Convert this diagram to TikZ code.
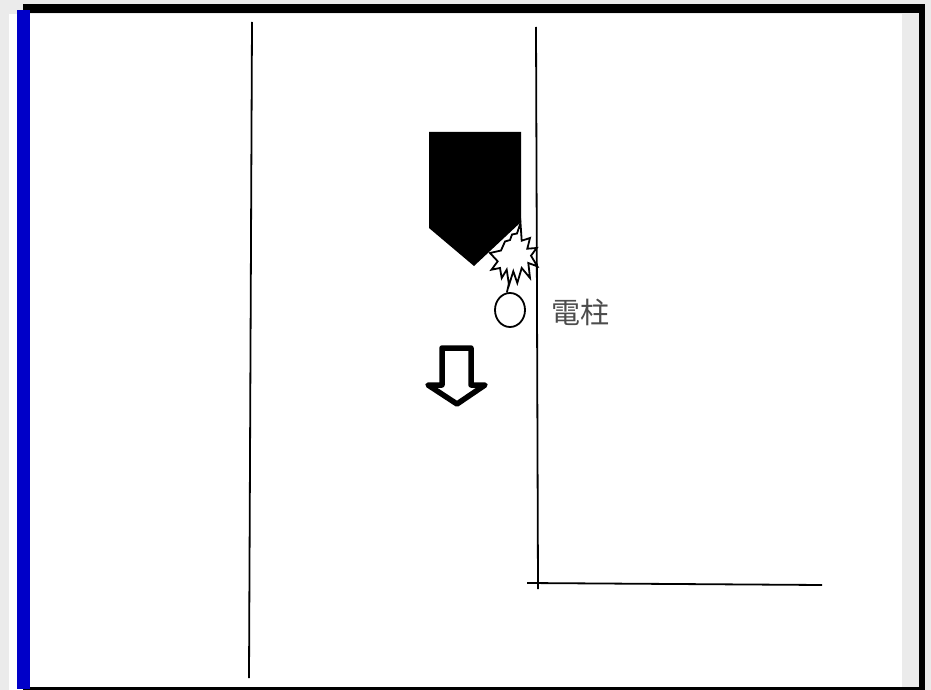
\documentclass[tikz,border=0pt]{standalone}
\usepackage{fontspec}
\newfontfamily\cjk{Noto Sans CJK JP}
\usetikzlibrary{shapes.geometric, positioning}
\definecolor{pagegray}{HTML}{EBEBEB}
\definecolor{framecolor}{HTML}{0000C8}

\begin{document}
\begin{tikzpicture}[
        x=1pt, y=-1pt,
        road/.style={draw=black, line width=1.8pt},
        impact/.style={draw=black, fill=white, line width=1.8pt, line join=miter},
        pole/.style={ellipse, draw=black, fill=white, line width=1.8pt, inner sep=0pt, minimum width=30pt, minimum height=34pt},
        polelabel/.style={inner sep=0pt, text=black!70, font=\cjk\fontsize{29}{29}\selectfont},
        direction/.style={draw=black, fill=white, line width=5.5pt, line join=round}
    ]
    \useasboundingbox (0,0) rectangle (931,690);

    % page and frame
    \fill[pagegray] (0,0) rectangle (931,690);
    \fill[white] (9,14) rectangle (902,690);
    \fill[black] (23,4) rectangle (925,13);
    \fill[black] (919,4) rectangle (925,690);
    \fill[black] (23,687) rectangle (925,690);
    \fill[framecolor] (17,10) rectangle (30,689);

    % roads
    \draw[road] (252,22) -- (249,678);
    \draw[road] (536,27) -- (538,589);
    \draw[road] (527,583) -- (822,585);

    % car
    \fill[black] (429,132) -- (521,132) -- (521,222) -- (474,266) -- (429,228) -- cycle;

    % pole
    \node[pole] (pole) at (510,310) {};
    \node[polelabel, right=25pt of pole, yshift=-2.5pt] (polename) {電柱};
    \coordinate (hit) at (509,283);
    \draw[road] (hit) -- (pole.100);

    % impact
    \draw[impact] (520.5,223) -- (521.7,240.7) -- (530,238) -- (527.3,248.7) -- (536.7,248) -- (531,255.7)
        -- (537.3,266.3) -- (528.3,263) -- (530,278) -- (521.7,268) -- (517.3,283) -- (513.3,271.3)
        -- (509,285) -- (506.7,269.7) -- (501.7,278) -- (500,268) -- (491.5,269.7) -- (497.7,261.3)
        -- (490,253) -- (501,250.5) -- (505,241.5) -- (510,240) -- (512,234.5) -- (517,233.5) -- cycle;

    % direction of travel
    \draw[direction] (442,348) -- (471,348) -- (471,385) -- (485,385) -- (457,404)
        -- (428,385) -- (442,385) -- cycle;

\end{tikzpicture}
\end{document}
